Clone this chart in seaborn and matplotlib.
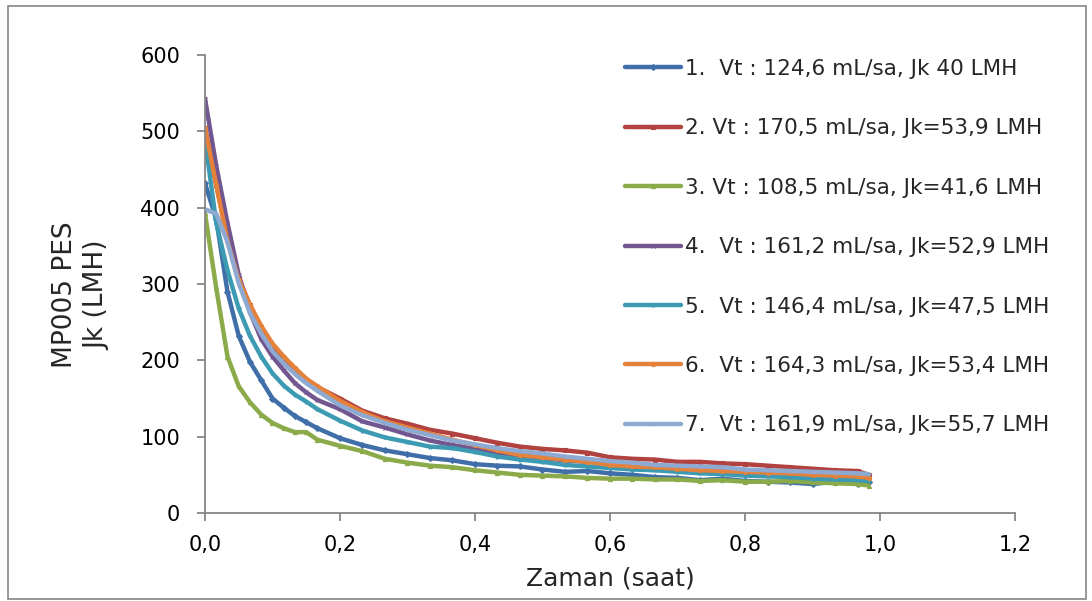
import pandas as pd
import matplotlib.pyplot as plt
import matplotlib.ticker as mticker
from matplotlib.patches import Rectangle
import seaborn as sns

# sampling times (minutes), converted to hours below
minutes = [0, 1, 2, 3, 4, 5, 6, 7, 8, 9, 10, 12, 14, 16, 18, 20, 22, 24, 26, 28,
           30, 32, 34, 36, 38, 40, 42, 44, 46, 48, 50, 52, 54, 56, 58, 59]

# flux values (LMH)
jk_1 = [432, 385, 290, 232, 198, 174, 150, 138, 127, 119, 111, 98, 89, 82, 77, 72, 69, 64,
        62, 61, 57, 54, 55, 52, 50, 47, 46, 43, 45, 42, 41, 40, 38, 41, 38, 40]
jk_2 = [505, 430, 362, 308, 272, 241, 220, 202, 187, 174, 165, 150, 134, 124, 117, 109, 104, 98,
        92, 87, 84, 82, 79, 73, 71, 70, 67, 67, 65, 64, 62, 60, 58, 56, 55, 50]
jk_3 = [393, 295, 205, 166, 145, 129, 118, 111, 106, 106, 96, 88, 81, 71, 66, 62, 60, 56,
        53, 50, 49, 48, 46, 45, 45, 44, 44, 42, 43, 41, 41, 42, 40, 39, 38, 36]
jk_4 = [543, 455, 380, 312, 263, 228, 205, 187, 170, 158, 148, 136, 120, 112, 103, 95, 89, 84,
        79, 75, 72, 69, 67, 65, 62, 61, 59, 57, 56, 54, 53, 52, 51, 50, 49, 48]
jk_5 = [490, 380, 318, 268, 232, 205, 183, 167, 155, 146, 136, 121, 108, 99, 93, 87, 85, 80,
        74, 70, 67, 63, 61, 59, 57, 56, 54, 52, 51, 49, 48, 47, 45, 44, 43, 42]
jk_6 = [505, 430, 356, 305, 273, 245, 222, 205, 190, 176, 166, 147, 132, 120, 112, 104, 96, 89,
        82, 76, 73, 70, 67, 63, 61, 60, 58, 56, 55, 54, 53, 52, 50, 49, 48, 46]
jk_7 = [398, 392, 355, 301, 262, 235, 212, 196, 182, 170, 160, 141, 128, 118, 109, 102, 95, 90,
        85, 81, 78, 74, 71, 68, 66, 63, 62, 61, 60, 57, 56, 55, 54, 53, 52, 51]

labels = [
    "1.  Vt : 124,6 mL/sa, Jk 40 LMH",
    "2. Vt : 170,5 mL/sa, Jk=53,9 LMH",
    "3. Vt : 108,5 mL/sa, Jk=41,6 LMH",
    "4.  Vt : 161,2 mL/sa, Jk=52,9 LMH",
    "5.  Vt : 146,4 mL/sa, Jk=47,5 LMH",
    "6.  Vt : 164,3 mL/sa, Jk=53,4 LMH",
    "7.  Vt : 161,9 mL/sa, Jk=55,7 LMH",
]
series = [jk_1, jk_2, jk_3, jk_4, jk_5, jk_6, jk_7]
colors = ["#3F6EA9", "#B2423F", "#8BAA4A", "#72568F", "#3C9BB3", "#E4813A", "#8FAAD2"]
markers = ["D", "s", "^", "x", "*", "o", "+"]

hours = [m / 60 for m in minutes]

sns.set_style("white")
plt.rcParams['font.family'] = ['DejaVu Sans']

fig = plt.figure(figsize=(10.92, 6.01), dpi=100)
ax = fig.add_axes([0.1877, 0.1464, 0.7418, 0.7621])

for vals, lab, col, mk in zip(series, labels, colors, markers):
    df = pd.DataFrame({'t': hours, 'jk': vals})
    sns.lineplot(data=df, x='t', y='jk', ax=ax, color=col, label=lab,
                 linewidth=3.2, marker=mk, markersize=3, markeredgewidth=0.8,
                 markeredgecolor=col)

ax.set_xlim(0, 1.2)
ax.set_ylim(0, 600)
ax.set_xticks([0, 0.2, 0.4, 0.6, 0.8, 1.0, 1.2])
ax.set_yticks([0, 100, 200, 300, 400, 500, 600])
ax.xaxis.set_major_formatter(mticker.FuncFormatter(lambda v, p: f"{v:.1f}".replace('.', ',')))

for s in ['top', 'right']:
    ax.spines[s].set_visible(False)
for s in ['left', 'bottom']:
    ax.spines[s].set_color('#868686')
    ax.spines[s].set_linewidth(1.3)
ax.tick_params(axis='both', direction='out', length=5.8, width=1.3, color='#868686',
               labelsize=15, labelcolor='black', left=True, bottom=True)
ax.tick_params(axis='x', pad=10)
ax.tick_params(axis='y', pad=12)

ax.set_xlabel("Zaman (saat)", fontsize=18, va='top')
ax.xaxis.set_label_coords(0.5, -0.117)
ax.set_ylabel("MP005 PES\nJk (LMH)", fontsize=19, linespacing=1.3, va='center')
ax.yaxis.set_label_coords(-0.153, 0.476)

leg = ax.legend(loc='upper left', bbox_to_anchor=(0.508, 1.010), frameon=False,
                fontsize=15.5, handlelength=2.6, handletextpad=0.2, labelspacing=1.83,
                borderaxespad=0)

# outer chart border
fig.patches.append(Rectangle((0.0073, 0.0033), 0.987, 0.9867, transform=fig.transFigure,
                             fill=False, edgecolor='#868686', linewidth=1.2))

plt.savefig("out.png", dpi=100)
